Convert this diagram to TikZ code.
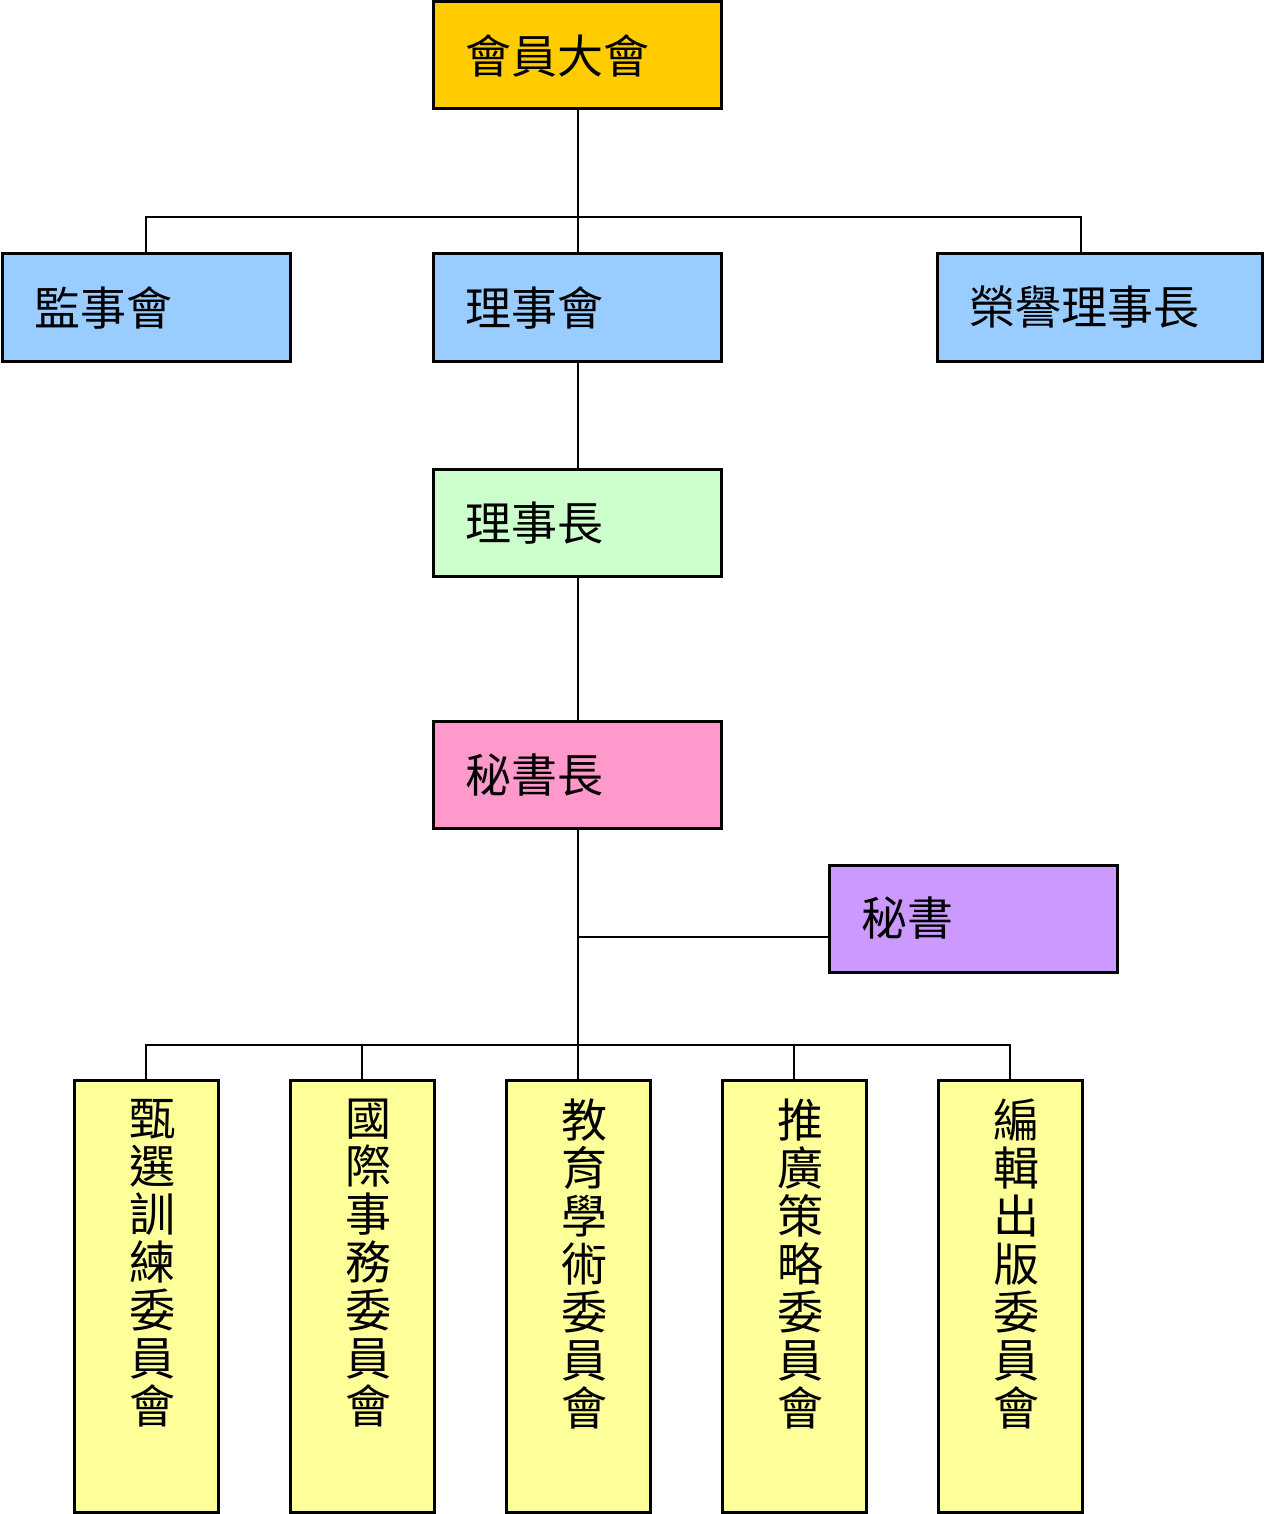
\documentclass[tikz,border=0pt]{standalone}
\usepackage{fontspec}
\setmainfont{Noto Sans CJK TC}
\begin{document}
\begin{tikzpicture}[x=0.5pt,y=-0.5pt,
  box/.style={draw=black, line width=1.5pt, rectangle, inner sep=0pt, font=\fontsize{23}{24}\selectfont},
  hbox/.style={box, align=left, text width=#1*0.5pt-32pt, inner xsep=16pt, minimum height=107*0.5pt},
  vbox/.style={box, minimum width=144*0.5pt, minimum height=432*0.5pt},
  vtext/.style={anchor=north, align=center, inner sep=0pt, font=\fontsize{23}{24}\selectfont},
  conn/.style={draw=black, line width=1.3pt}]
\useasboundingbox (0,0) rectangle (1264,1514);
\fill[white] (0,0) rectangle (1264,1514);
% top level
\node[hbox=288, fill={rgb,255:red,255;green,204;blue,0}] (gm) at (577.5,55.5) {會員大會};
\node[hbox=288, fill={rgb,255:red,153;green,204;blue,255}] (sup) at (146,307.5) {監事會};
\node[hbox=288, fill={rgb,255:red,153;green,204;blue,255}] (bd) at (577.5,307.5) {理事會};
\node[hbox=325, fill={rgb,255:red,153;green,204;blue,255}] (hon) at (1099.5,307.5) {榮譽理事長};
\node[hbox=288, fill={rgb,255:red,204;green,255;blue,204}] (ch) at (577.5,523) {理事長};
\node[hbox=288, fill={rgb,255:red,255;green,153;blue,204}] (sg) at (577.5,775) {秘書長};
\node[hbox=288, fill={rgb,255:red,204;green,153;blue,255}] (sec) at (973,918.5) {秘書};
% committees
\foreach \n/\cx/\t in {c1/146/甄\\選\\訓\\練\\委\\員\\會,
                       c2/362/國\\際\\事\\務\\委\\員\\會,
                       c3/578/教\\育\\學\\術\\委\\員\\會,
                       c4/794/推\\廣\\策\\略\\委\\員\\會,
                       c5/1010/編\\輯\\出\\版\\委\\員\\會}{
  \node[vbox, fill={rgb,255:red,255;green,255;blue,153}] (\n) at (\cx,1296) {};
  \node[vtext] (\n t) at ([yshift=-10pt,xshift=3pt]\n.north) {\t};
}
% connectors
\coordinate (j1) at (578,217);
\coordinate (hj) at (1081,217);
\coordinate (j2) at (578,937);
\coordinate (j3) at (578,1045);
\draw[conn] (gm.south -| j1) -- (bd.north -| j1);
\draw[conn] (sup.north) |- (hj) -- (hj |- hon.north);
\draw[conn] (bd.south -| j1) -- (ch.north -| j1);
\draw[conn] (ch.south -| j1) -- (sg.north -| j1);
\draw[conn] (sg.south -| j1) -- (c3.north);
\draw[conn] (j2) -- (j2 -| sec.west);
\draw[conn] (c1.north) |- (j3) -| (c5.north);
\draw[conn] (c2.north) |- (j3);
\draw[conn] (c4.north) |- (j3);
\end{tikzpicture}
\end{document}
